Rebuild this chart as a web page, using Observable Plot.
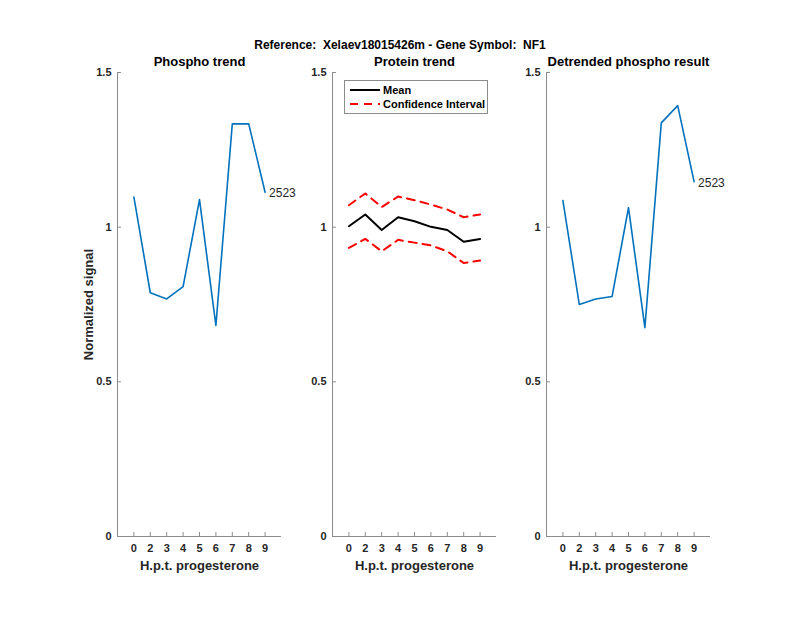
<!DOCTYPE html>
<html>
<head>
<meta charset="utf-8">
<script src="https://cdn.jsdelivr.net/npm/d3@7"></script>
<script src="https://cdn.jsdelivr.net/npm/@observablehq/plot@0.6"></script>
<style>
  body { margin: 0; background: #fff; }
  #fig { position: relative; width: 800px; height: 618px; background: #fff; overflow: hidden;
         font-family: "Liberation Sans", Arial, Helvetica, sans-serif; color: #262626; }
  #title { position: absolute; top: 37px; left: 0; width: 800px; text-align: center;
           font-weight: bold; font-size: 12px; line-height: 16px; color: #000; white-space: pre; }
  .panel { position: absolute; top: 0; }
  #legend { position: absolute; left: 344px; top: 80px; width: 142px; height: 32px;
            border: 1px solid #8c8c8c; background: #fff; }
</style>
</head>
<body>
<div id="fig">
  <div id="title"></div>
</div>
<script>
// ---- data ----
const hours = ["0", "2", "3", "4", "5", "6", "7", "8", "9"];
const phospho = [1.097, 0.788, 0.768, 0.808, 1.089, 0.682, 1.334, 1.334, 1.113];
const proteinMean = [1.003, 1.041, 0.991, 1.032, 1.019, 1.001, 0.991, 0.953, 0.962];
const ciUpper = [1.071, 1.109, 1.065, 1.099, 1.087, 1.073, 1.057, 1.032, 1.041];
const ciLower = [0.933, 0.962, 0.922, 0.959, 0.950, 0.941, 0.922, 0.884, 0.892];
const detrended = [1.086, 0.750, 0.768, 0.776, 1.063, 0.675, 1.337, 1.393, 1.147];
const yTicks = [0, 0.5, 1, 1.5];
const panelTitles = ["Phospho trend", "Protein trend", "Detrended phospho result"];
const mainTitle = "Reference:  Xelaev18015426m - Gene Symbol:  NF1";
const peptideLabel = "2523";
const xLabel = "H.p.t. progesterone";
const yLabel = "Normalized signal";
const legendLabels = ["Mean", "Confidence Interval"];

// ---- layout ----
const FONT = '"Liberation Sans", Arial, Helvetica, sans-serif';
const PW = 164, ML = 60, MR = 50, MT = 72, MB = 82, H = 618;
const PH = H - MT - MB;
const AX = "#8c8c8c";
const BLUE = "#0072BD";
const idx = hours.map((h, i) => i + 1);
const rows = (vals) => vals.map((v, i) => ({x: i + 1, y: v}));

document.getElementById("title").textContent = mainTitle;
const fig = document.getElementById("fig");

function panel(axisLeft, title, dataMarks, withYLabel) {
  const marks = [
    // axis lines
    Plot.ruleX([0], {stroke: AX, strokeWidth: 1}),
    Plot.ruleY([0], {stroke: AX, strokeWidth: 1}),
    // inward ticks
    Plot.ruleX(idx, {x: d => d, insetTop: PH - 4, stroke: AX}),
    Plot.ruleY(yTicks, {y: d => d, insetRight: PW - 4, stroke: AX}),
    Plot.axisX({ticks: idx, tickSize: 0, tickPadding: 8, tickFormat: i => hours[i - 1],
                label: null, fontSize: 11, fontWeight: "bold", fill: "#262626"}),
    Plot.axisY({ticks: yTicks, tickSize: 0, tickPadding: 6, tickFormat: d => String(d),
                label: null, fontSize: 11, fontWeight: "bold", fill: "#262626"}),
    Plot.text([title], {frameAnchor: "top", dy: -11, lineAnchor: "middle", textAnchor: "middle",
      fontSize: 13, fontWeight: "bold", fill: "#000"}),
    Plot.text([xLabel], {frameAnchor: "bottom", dy: 29, lineAnchor: "middle", textAnchor: "middle",
      fontSize: 13, fontWeight: "bold", fill: "#262626"}),
    ...dataMarks
  ];
  if (withYLabel) {
    marks.push(Plot.text([yLabel], {frameAnchor: "left", dx: -29, rotate: -90,
      lineAnchor: "middle", textAnchor: "middle",
      fontSize: 13, fontWeight: "bold", fill: "#262626"}));
  }
  const svg = Plot.plot({
    width: ML + PW + MR, height: H,
    marginLeft: ML, marginRight: MR, marginTop: MT, marginBottom: MB,
    style: {background: "transparent", overflow: "visible", fontFamily: FONT, color: "#262626"},
    x: {domain: [0, 10], axis: null},
    y: {domain: [0, 1.5], axis: null},
    marks
  });
  svg.classList.add("panel");
  svg.style.position = "absolute";
  svg.style.left = (axisLeft - ML) + "px";
  svg.style.top = "0px";
  fig.appendChild(svg);
}

function seriesMarks(vals) {
  const d = rows(vals);
  const last = d[d.length - 1];
  return [
    Plot.line(d, {x: "x", y: "y", stroke: BLUE, strokeWidth: 1.6}),
    Plot.text([last], {x: "x", y: "y", text: () => peptideLabel, textAnchor: "start", dx: 4, dy: 1,
      fontSize: 12, fontWeight: "normal", fill: "#262626"})
  ];
}

panel(117, panelTitles[0], seriesMarks(phospho), true);
panel(332, panelTitles[1], [
  Plot.line(rows(ciUpper), {x: "x", y: "y", stroke: "#ff0000", strokeWidth: 2, strokeDasharray: "8,6"}),
  Plot.line(rows(ciLower), {x: "x", y: "y", stroke: "#ff0000", strokeWidth: 2, strokeDasharray: "8,6"}),
  Plot.line(rows(proteinMean), {x: "x", y: "y", stroke: "#000", strokeWidth: 2})
], false);
panel(546, panelTitles[2], seriesMarks(detrended), false);

// legend (protein panel)
const lg = document.createElement("div");
lg.id = "legend";
lg.innerHTML = `<svg width="142" height="32" style="display:block;font-family:${FONT.replace(/"/g, "'")}">
  <line x1="5" x2="35" y1="9" y2="9" stroke="#000" stroke-width="2"/>
  <text x="38" y="9" dy="0.35em" font-size="11" font-weight="bold" fill="#000">${legendLabels[0]}</text>
  <line x1="5" x2="35" y1="23" y2="23" stroke="#ff0000" stroke-width="2" stroke-dasharray="8,6"/>
  <text x="38" y="23" dy="0.35em" font-size="11" font-weight="bold" fill="#000">${legendLabels[1]}</text>
</svg>`;
fig.appendChild(lg);
</script>
</body>
</html>
